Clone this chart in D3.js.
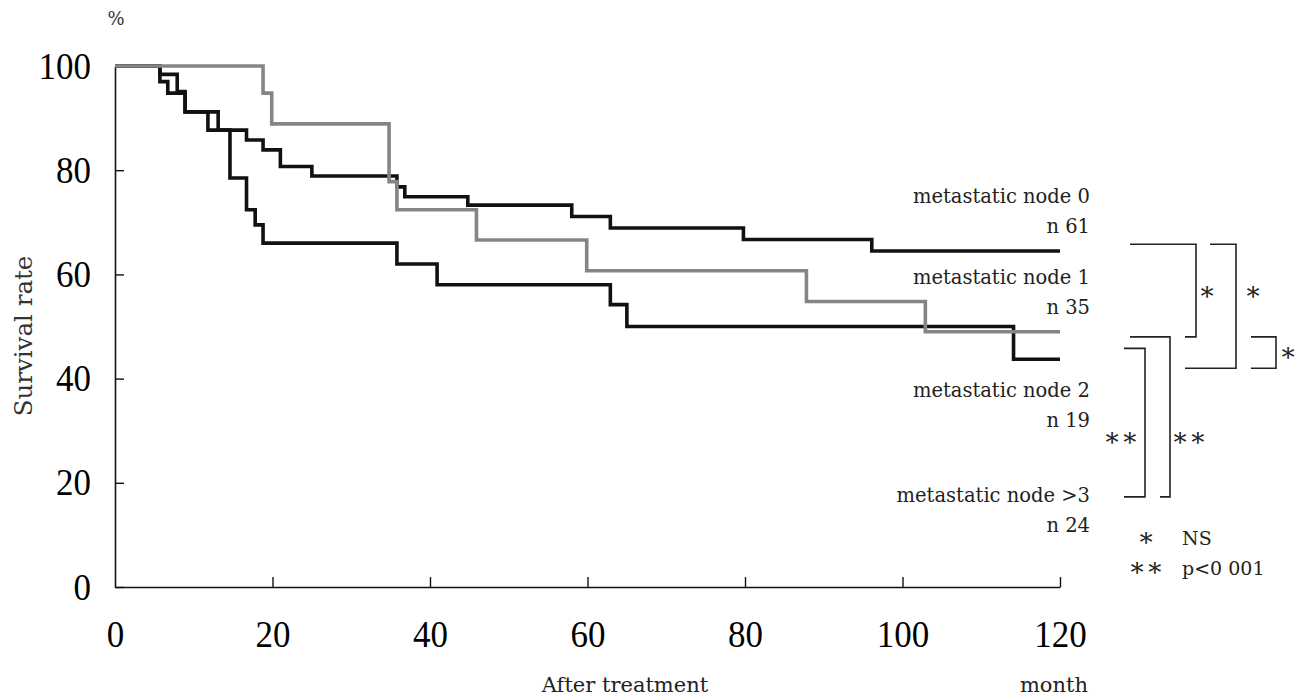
<!DOCTYPE html>
<html>
<head>
<meta charset="utf-8">
<script src="https://cdn.jsdelivr.net/npm/d3@7/dist/d3.min.js"></script>
<style>
  body { margin: 0; background: #fff; }
  svg { display: block; }
</style>
</head>
<body>
<svg id="chart" width="1302" height="700"></svg>
<script>
// Kaplan-Meier curves: step times (month) and survival (%)
const node0Months = [0, 5.7, 7.9, 8.9, 13.1, 16.7, 18.8, 21.0, 25.0, 35.8, 36.8, 44.8, 58.0, 62.9, 79.8, 96.1, 120];
const node0Rate   = [100, 98.4, 95.1, 91.2, 87.7, 85.8, 83.9, 80.7, 78.9, 76.8, 74.9, 73.3, 71.1, 68.9, 66.7, 64.5, 64.5];

const grayMonths = [0, 18.8, 19.9, 34.8, 35.8, 45.9, 59.9, 87.8, 102.9, 120];
const grayRate   = [100, 94.8, 88.9, 77.8, 72.4, 66.6, 60.7, 54.8, 49.0, 49.0];

const node3Months = [0, 5.7, 6.7, 8.9, 11.8, 14.6, 16.7, 17.8, 18.8, 35.8, 40.9, 62.9, 65.0, 114.1, 120];
const node3Rate   = [100, 97.0, 94.8, 91.2, 87.7, 78.5, 72.4, 69.5, 66.0, 62.0, 58.0, 54.2, 50.0, 43.7, 43.7];

const xTicks = [0, 20, 40, 60, 80, 100, 120];
const yTicks = [0, 20, 40, 60, 80, 100];

const groupNames = ["metastatic node 0", "metastatic node 1", "metastatic node 2", "metastatic node >3"];
const groupN = ["n 61", "n 35", "n 19", "n 24"];

// significance brackets: [yTop %, yBottom %, label]
const bracketSpans = [[65.8, 48.0, "\u2217"], [65.8, 42.0, "\u2217"], [48.0, 42.0, "\u2217"], [48.0, 17.3, "\u2217\u2217"], [45.8, 17.3, "\u2217\u2217"]];
const noteMarks = ["\u2217", "\u2217\u2217"];
const noteTexts = ["NS", "p<0 001"];

const svg = d3.select("#chart");
const serif = "'DejaVu Serif', serif";
const tickFont = "'Liberation Serif', 'Times New Roman', serif";

const x = d3.scaleLinear().domain([0, 120]).range([115, 1060]);
const y = d3.scaleLinear().domain([0, 100]).range([587, 66]);

svg.append("rect").attr("width", 1302).attr("height", 700).attr("fill", "#fff");

// axes
const yAxis = svg.append("g")
  .attr("transform", "translate(" + x(0) + ",0)")
  .call(d3.axisLeft(y).tickValues(yTicks).tickSize(-9).tickSizeOuter(0).tickPadding(24));

const xAxis = svg.append("g")
  .attr("transform", "translate(0," + y(0) + ")")
  .call(d3.axisBottom(x).tickValues(xTicks).tickSize(-10).tickSizeOuter(0).tickPadding(33));

[yAxis, xAxis].forEach(function(ax) {
  ax.select(".domain").attr("stroke", "#111").attr("stroke-width", 1.6);
  ax.selectAll(".tick line").attr("stroke", "#111").attr("stroke-width", 1.4);
  ax.selectAll(".tick text")
    .attr("font-family", tickFont)
    .attr("font-size", 38)
    .attr("fill", "#000")
    .attr("lengthAdjust", "spacingAndGlyphs")
    .attr("textLength", function(d) { return String(d).length * 17.5; });
});
// the 0 tick on x sits under the corner, no upward tick there
xAxis.selectAll(".tick").filter(d => d === 0).select("line").remove();

// curves
const line = d3.line()
  .curve(d3.curveStepAfter)
  .x(d => x(d[0]))
  .y(d => y(d[1]));

const curves = [
  { months: node3Months, rate: node3Rate, color: "#111" },
  { months: node0Months, rate: node0Rate, color: "#111" },
  { months: grayMonths, rate: grayRate, color: "#858585" }
];

svg.append("g")
  .selectAll("path")
  .data(curves)
  .join("path")
  .attr("fill", "none")
  .attr("stroke", d => d.color)
  .attr("stroke-width", 3.6)
  .attr("stroke-linejoin", "miter")
  .attr("d", d => line(d.months.map((m, i) => [m, d.rate[i]])));

// labels at the right end
const labelX = 1090;
const nameY = [203, 284, 397, 502];
const nY = [233, 314, 427, 532];
const legend = svg.append("g")
  .attr("font-family", serif)
  .attr("font-size", 19.5)
  .attr("fill", "#222")
  .attr("text-anchor", "end");
groupNames.forEach(function(name, i) {
  legend.append("text").attr("x", labelX).attr("y", nameY[i]).text(name);
  legend.append("text").attr("x", labelX).attr("y", nY[i]).text(groupN[i]);
});

// brackets
const bracketLayout = [
  { xTop: 1130, xV: 1196, xBot: 1185, tx: 1207 },
  { xTop: 1210, xV: 1236, xBot: 1185, tx: 1253 },
  { xTop: 1251, xV: 1276, xBot: 1251, tx: 1288 },
  { xTop: 1130, xV: 1170, xBot: 1160, tx: 1189 },
  { xTop: 1124, xV: 1145, xBot: 1124, tx: 1121 }
];
const br = svg.append("g");
bracketSpans.forEach(function(b, i) {
  const L = bracketLayout[i];
  const y1 = y(b[0]), y2 = y(b[1]);
  br.append("path")
    .attr("fill", "none")
    .attr("stroke", "#222")
    .attr("stroke-width", 1.6)
    .attr("d", "M" + L.xTop + "," + y1 + "H" + L.xV + "V" + y2 + "H" + L.xBot);
  const midY = i === 2 ? (y1 + y2) / 2 : (i < 2 ? 292 : 438);
  br.append("text")
    .attr("x", L.tx)
    .attr("y", midY + 8)
    .attr("text-anchor", "middle")
    .attr("font-family", serif)
    .attr("font-size", 26)
    .attr("fill", "#222")
    .text(b[2]);
});

// footnote
const noteY = [545, 575];
noteMarks.forEach(function(m, i) {
  svg.append("text")
    .attr("x", 1146).attr("y", noteY[i] + 1)
    .attr("text-anchor", "middle")
    .attr("font-family", serif).attr("font-size", 26).attr("fill", "#222")
    .text(m);
  svg.append("text")
    .attr("x", 1182).attr("y", noteY[i])
    .attr("font-family", serif).attr("font-size", 19).attr("fill", "#222")
    .text(noteTexts[i]);
});

// axis titles
svg.append("text")
  .attr("x", 116).attr("y", 25)
  .attr("text-anchor", "middle")
  .attr("font-family", serif).attr("font-size", 18).attr("fill", "#333")
  .text("%");

svg.append("text")
  .attr("transform", "translate(32,336) rotate(-90)")
  .attr("text-anchor", "middle")
  .attr("font-family", serif).attr("font-size", 24.5).attr("fill", "#333")
  .text("Survival rate");

svg.append("text")
  .attr("x", 625).attr("y", 692)
  .attr("text-anchor", "middle")
  .attr("font-family", serif).attr("font-size", 21).attr("fill", "#222")
  .text("After treatment");

svg.append("text")
  .attr("x", 1088).attr("y", 692)
  .attr("text-anchor", "end")
  .attr("font-family", serif).attr("font-size", 21).attr("fill", "#222")
  .text("month");
</script>
</body>
</html>
